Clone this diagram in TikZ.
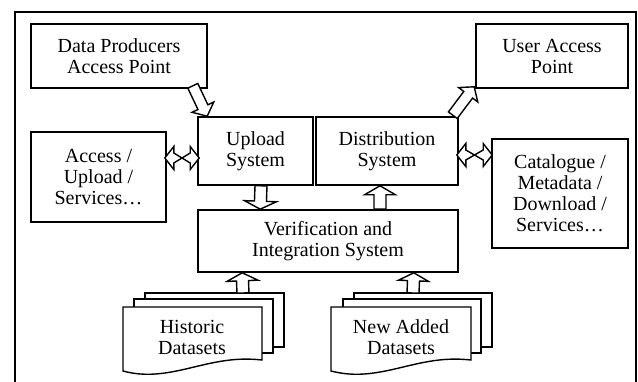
\documentclass[tikz,border=0pt]{standalone}
\usepackage{fontspec}
\setmainfont{Liberation Serif}
\usetikzlibrary{calc}
\tikzset{
  boxnode/.style={draw, line width=1.6pt, inner sep=0pt, align=center,
    font=\fontsize{20}{21}\selectfont},
  txtnode/.style={inner sep=0pt, align=center, font=\fontsize{20}{21}\selectfont},
  arrstyle/.style={draw, fill=white, line width=1.4pt, line join=miter},
  docstyle/.style={draw, fill=white, line width=1.4pt},
  framestyle/.style={draw, line width=1.6pt}
}
% single block arrow: #1 tail, #2 tip, #3 shaft half width, #4 head half width, #5 head length
\newcommand\blockarr[5]{%
  \path #1 coordinate (bas) #2 coordinate (bae);
  \path ($(bae)!#5!(bas)$) coordinate (bah);
  \draw[arrstyle] ($(bas)!#3!90:(bae)$) -- ($(bah)!#3!90:(bae)$) -- ($(bah)!#4!90:(bae)$)
    -- (bae) -- ($(bah)!#4!-90:(bae)$) -- ($(bah)!#3!-90:(bae)$) -- ($(bas)!#3!-90:(bae)$) -- cycle;
}
% double block arrow
\newcommand\dblarr[5]{%
  \path #1 coordinate (das) #2 coordinate (dae);
  \path ($(das)!#5!(dae)$) coordinate (dhs) ($(dae)!#5!(das)$) coordinate (dhe);
  \draw[arrstyle] (das) -- ($(dhs)!#4!-90:(dae)$) -- ($(dhs)!#3!-90:(dae)$)
    -- ($(dhe)!#3!90:(dae)$) -- ($(dhe)!#4!90:(dae)$) -- (dae)
    -- ($(dhe)!#4!-90:(dae)$) -- ($(dhe)!#3!-90:(dae)$)
    -- ($(dhs)!#3!90:(dae)$) -- ($(dhs)!#4!90:(dae)$) -- cycle;
}
\begin{document}
\begin{tikzpicture}[x=1pt,y=-1pt]
\useasboundingbox (0,0) rectangle (638,382);
% frame
\draw[framestyle] (15,382) -- (15,12) -- (636,12) -- (636,382);
% boxes
\node[boxnode, minimum width=176pt, minimum height=64pt] (dp) at (119,56) {Data Producers\\Access Point};
\node[boxnode, minimum width=152pt, minimum height=64pt] (ua) at (552,56) {User Access\\Point};
\node[boxnode, minimum width=115pt, minimum height=68pt] (up) at (255.5,151) {Upload\\System};
\node[boxnode, minimum width=142pt, minimum height=68pt] (ds) at (387,151) {Distribution\\System};
\node[boxnode, minimum width=135pt, minimum height=90pt] (aus) at (98.5,177) {Access /\\Upload /\\Services…};
\node[boxnode, minimum width=136pt, minimum height=109pt] (cat) at (560,193.5) {Catalogue /\\Metadata /\\Download /\\Services…};
\node[boxnode, minimum width=260pt, minimum height=62pt] (ver) at (328,241) {Verification and\\Integration System};
% historic datasets (multidocument)
\draw[docstyle] (145,299) -- (145,293) -- (284,293) -- (284,347) -- (273,347);
\draw[docstyle] (134,307) -- (134,299) -- (273,299) -- (273,353) -- (262,353);
\draw[docstyle] (123,307) -- (262,307) -- (262,360) .. controls (235,357) and (215,362) .. (190,368)
   .. controls (165,374) and (145,377) .. (123,371) -- cycle;
\coordinate (hist) at (243,293);
\node[txtnode] (histtxt) at (192,337) {Historic\\Datasets};
% new added datasets
\draw[docstyle] (354,299) -- (354,293) -- (492,293) -- (492,347) -- (481,347);
\draw[docstyle] (343,307) -- (343,299) -- (481,299) -- (481,353) -- (471,353);
\draw[docstyle] (331,307) -- (471,307) -- (471,360) .. controls (444,357) and (424,362) .. (399,368)
   .. controls (374,374) and (354,377) .. (331,371) -- cycle;
\coordinate (new) at (413,293);
\node[txtnode] (newtxt) at (401,337) {New Added\\Datasets};
% arrows
\blockarr{([shift={(-15,-3)}]dp.south east)}{([shift={(10,0)}]up.north west)}{5.5pt}{12pt}{10pt}
\blockarr{([shift={(-6,-1)}]ds.north east)}{([shift={(-1,-2)}]ua.south west)}{5.5pt}{12pt}{10pt}
\dblarr{([shift={(-2,-19)}]aus.east)}{([shift={(2,7)}]up.west)}{5pt}{11.5pt}{9pt}
\dblarr{([shift={(-2,4)}]ds.east)}{([shift={(1,-38.5)}]cat.west)}{5pt}{11.5pt}{9pt}
\blockarr{([shift={(5.5,0)}]up.south)}{([shift={(63,0)}]ver.north west)}{6pt}{16pt}{8pt}
\blockarr{([shift={(52,0)}]ver.north)}{([shift={(-7,0)}]ds.south)}{6pt}{15.5pt}{9pt}
\blockarr{(hist)}{([shift={(45,0)}]ver.south west)}{6pt}{15.5pt}{8pt}
\blockarr{(new)}{([shift={(-45,0)}]ver.south east)}{6pt}{15pt}{8pt}
\end{tikzpicture}
\end{document}
